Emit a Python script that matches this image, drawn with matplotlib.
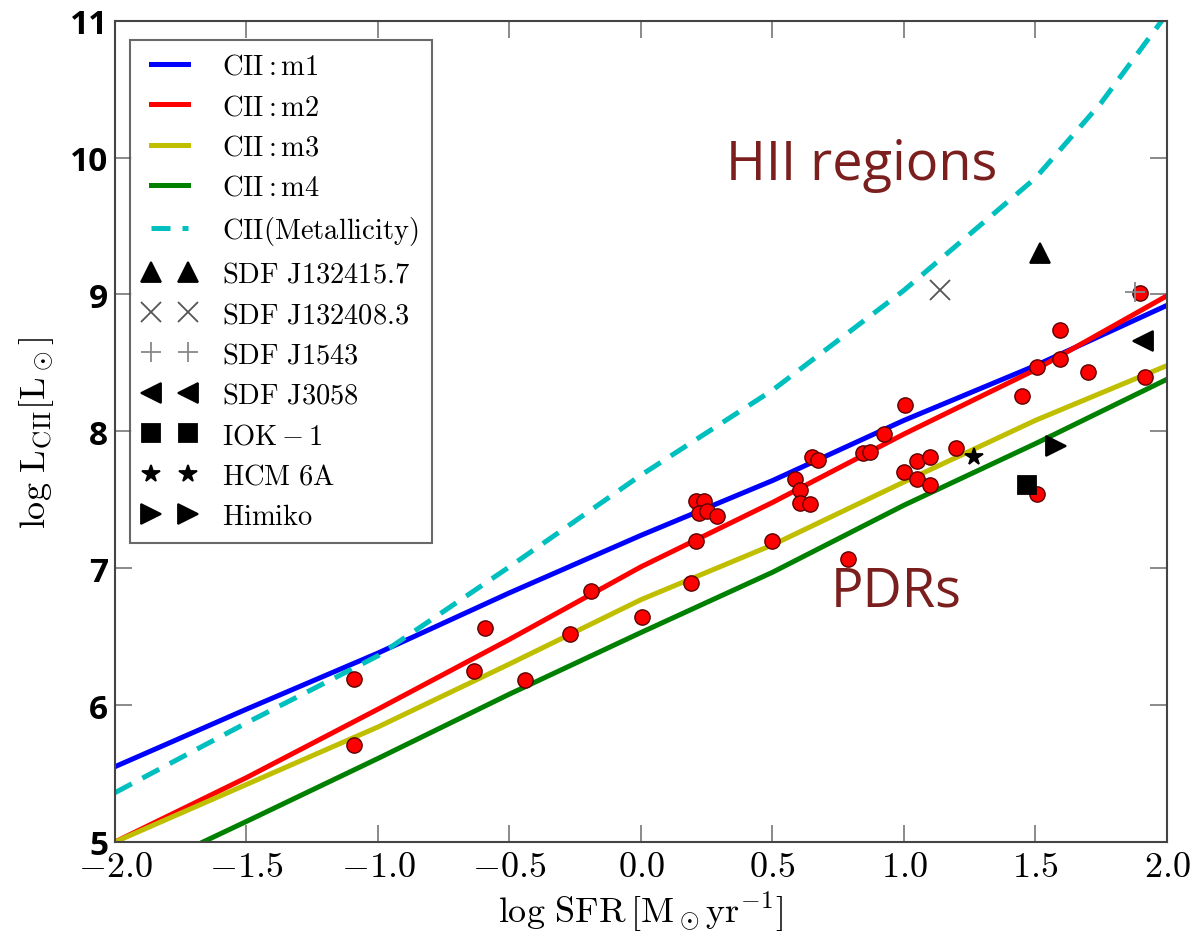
import numpy as np
import matplotlib
matplotlib.use("Agg")
import matplotlib.pyplot as plt

plt.rcParams['mathtext.fontset'] = 'cm'
plt.rcParams['font.family'] = 'DejaVu Serif'

# model curves
x_model = [-2.0, -1.5, -1.0, -0.5, 0.0, 0.5, 1.0, 1.5, 2.0]
m1 = [5.55, 5.97, 6.38, 6.82, 7.24, 7.64, 8.08, 8.48, 8.92]
m2 = [5.00, 5.47, 5.97, 6.48, 7.01, 7.48, 7.98, 8.45, 8.99]
m3 = [5.00, 5.42, 5.84, 6.30, 6.77, 7.17, 7.63, 8.08, 8.48]
x_m4 = [-1.665, -1.5, -1.0, -0.5, 0.0, 0.5, 1.0, 1.5, 2.0]
m4 = [5.00, 5.15, 5.61, 6.08, 6.53, 6.97, 7.46, 7.91, 8.38]
x_metal = [-2.0, -1.5, -1.0, -0.5, 0.0, 0.5, 1.0, 1.5, 1.75, 2.0]
metal = [5.36, 5.87, 6.36, 7.01, 7.68, 8.30, 9.03, 9.85, 10.40, 11.05]

# red circles: local galaxies
gal_x = [-1.09, -1.09, -0.635, -0.593, -0.44, -0.27, -0.19, 0.005, 0.19,
         0.21, 0.21, 0.24, 0.22, 0.25, 0.29, 0.50, 0.585, 0.605, 0.605, 0.643,
         0.65, 0.673, 0.787, 0.844, 0.87, 0.924, 1.004, 1.00, 1.05, 1.05,
         1.10, 1.10, 1.20, 1.45, 1.506, 1.506, 1.593, 1.593, 1.70, 1.897, 1.916]
gal_y = [6.19, 5.71, 6.25, 6.56, 6.18, 6.52, 6.83, 6.64, 6.89,
         7.20, 7.49, 7.49, 7.40, 7.42, 7.38, 7.20, 7.65, 7.57, 7.48, 7.47,
         7.81, 7.79, 7.07, 7.84, 7.85, 7.98, 8.19, 7.70, 7.78, 7.65,
         7.81, 7.61, 7.88, 8.26, 8.47, 7.54, 8.74, 8.53, 8.43, 9.01, 8.40]

# high-z objects
hz_names = ['SDF J132415.7', 'SDF J132408.3', 'SDF J1543', 'SDF J3058',
            'IOK-1', 'HCM 6A', 'Himiko']
hz_x = [1.517, 1.137, 1.88, 1.91, 1.468, 1.266, 1.58]
hz_y = [9.30, 9.03, 9.02, 8.66, 7.61, 7.81, 7.89]

fig = plt.figure(figsize=(11.98, 9.45), dpi=100)
ax = fig.add_axes([0.096, 0.108, 0.878, 0.869])

lw = 3.6
ax.plot(x_model, m1, color='b', lw=lw, label=r'$\mathrm{CII:m1}$')
ax.plot(x_model, m2, color='r', lw=lw, label=r'$\mathrm{CII:m2}$')
ax.plot(x_model, m3, color='y', lw=lw, label=r'$\mathrm{CII:m3}$')
ax.plot(x_m4, m4, color='g', lw=lw, label=r'$\mathrm{CII:m4}$')
ax.plot(x_metal, metal, color='c', lw=lw, dashes=(3.8, 2.4),
        label=r'$\mathrm{CII(Metallicity)}$')

ax.plot(gal_x, gal_y, 'o', color='r', mec='#5a0000', mew=1.0, ms=11, zorder=3)

styles = [('^', 'k', 15), ('x', '#555555', 15), ('+', '#888888', 15),
          ('<', 'k', 15), ('s', 'k', 13), ('*', 'k', 13), ('>', 'k', 14)]
for name, hx, hy, (mk, col, ms) in zip(hz_names, hz_x, hz_y, styles):
    label = r'$\mathrm{' + name.replace(' ', r'\ ') + '}$'
    ax.plot([hx], [hy], mk, color=col, ms=ms, mew=1.3, ls='none', label=label,
            zorder=4)

ax.set_xlim(-2, 2)
ax.set_ylim(5, 11)
xt = [-2.0, -1.5, -1.0, -0.5, 0.0, 0.5, 1.0, 1.5, 2.0]
ax.set_xticks(xt)
ax.set_xticklabels([r'$%.1f$' % v for v in xt], fontsize=26)
ax.set_yticks(range(5, 12))
ax.set_yticklabels([str(v) for v in range(5, 12)], fontsize=24,
                   family='Open Sans', weight='bold')
ax.tick_params(direction='in', length=12, width=1.2, top=True, right=True,
               color='#777777', pad=5)
for sp in ax.spines.values():
    sp.set_linewidth(1.5)
    sp.set_color('#444444')

ax.set_xlabel(r'$\log\,\mathrm{SFR}\,[\mathrm{M_\odot yr^{-1}}]$', fontsize=26,
              labelpad=4)
ax.set_ylabel(r'$\log\,\mathrm{L_{CII}[L_\odot]}$', fontsize=26, labelpad=10)

leg = ax.legend(loc='upper left', bbox_to_anchor=(0.006, 0.987), numpoints=2,
                fontsize=20.5, fancybox=False, handlelength=1.9,
                labelspacing=0.47, borderpad=0.45, handletextpad=0.9,
                borderaxespad=0.3)
leg.get_frame().set_edgecolor('#444444')
leg.get_frame().set_linewidth(1.5)

ax.text(0.84, 9.95, 'HII regions', color='#7a1e1e', fontsize=39,
        family='Open Sans', ha='center', va='center')
ax.text(0.97, 6.83, 'PDRs', color='#7a1e1e', fontsize=39,
        family='Open Sans', ha='center', va='center')

fig.savefig('out.png', dpi=100)
